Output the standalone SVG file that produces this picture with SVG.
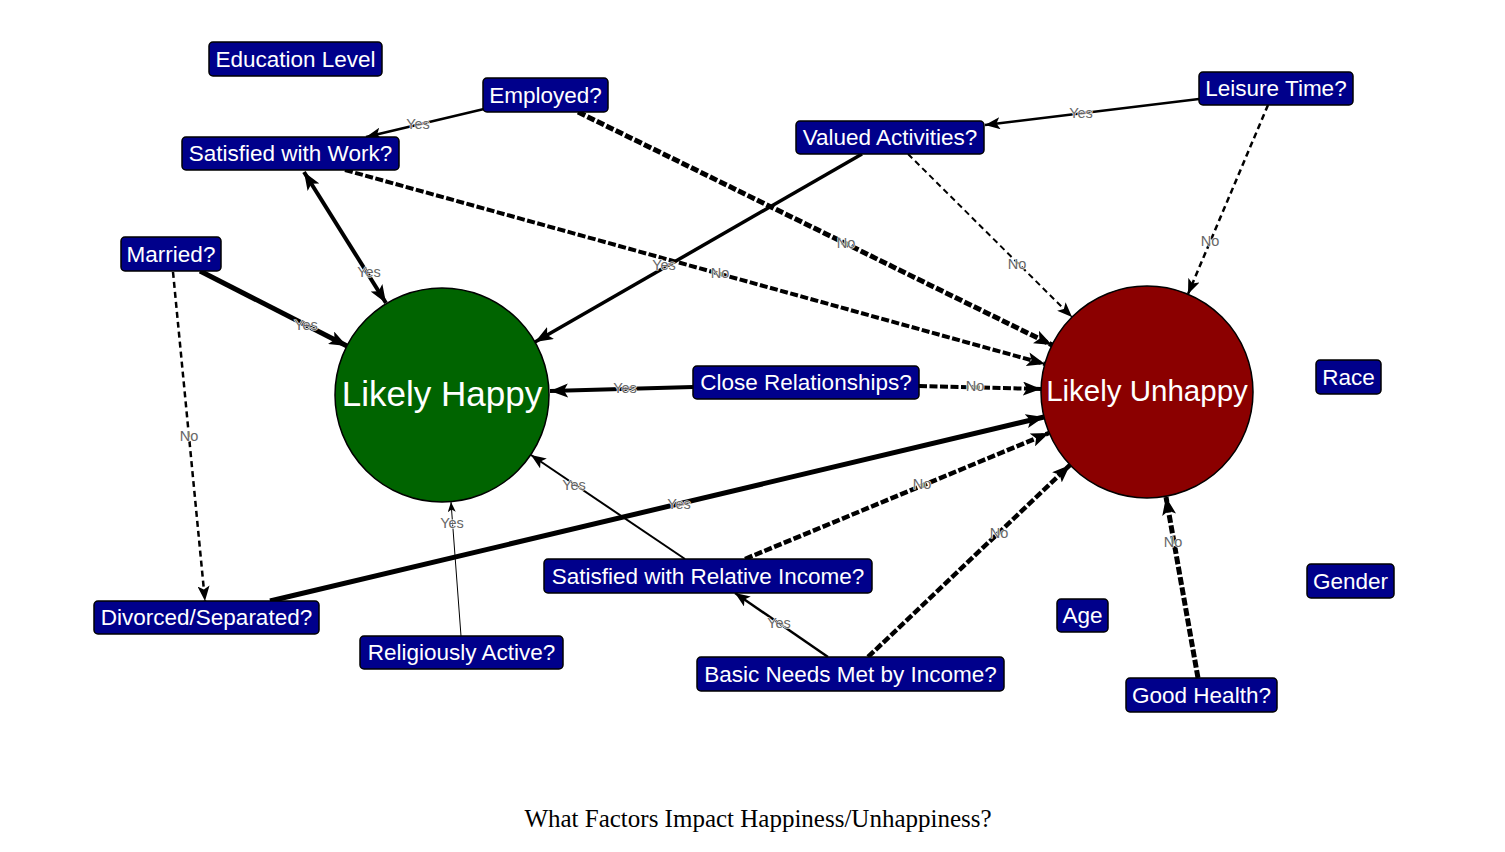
<svg xmlns="http://www.w3.org/2000/svg" width="1505" height="852" viewBox="0 0 1505 852">
<style>
.box{fill:#00008B;stroke:#000;stroke-width:1.5}
.bt{font-family:"Liberation Sans",Arial,sans-serif;font-size:22.5px;fill:#fff;text-anchor:middle}
.e{fill:none;stroke:#000;stroke-linecap:butt}
.d{stroke-dasharray:8 2.5}
.dt{stroke-dasharray:6 4}
.lb{font-family:"Liberation Sans",Arial,sans-serif;font-size:14.5px;fill:#666;text-anchor:middle;stroke:#fff;stroke-width:1.2;paint-order:stroke}
</style>
<defs>
<marker id="aS" markerUnits="userSpaceOnUse" markerWidth="10" markerHeight="8" refX="10" refY="4" orient="auto"><path d="M0,0 L10,4 L0,8 L2.5,4 Z" fill="#000"/></marker>
<marker id="aM" markerUnits="userSpaceOnUse" markerWidth="15" markerHeight="12" refX="15" refY="6" orient="auto"><path d="M0,0 L15,6 L0,12 L3.5,6 Z" fill="#000"/></marker>
<marker id="aL" markerUnits="userSpaceOnUse" markerWidth="18" markerHeight="14" refX="18" refY="7" orient="auto"><path d="M0,0 L18,7 L0,14 L4,7 Z" fill="#000"/></marker>
<marker id="aLs" markerUnits="userSpaceOnUse" markerWidth="18" markerHeight="14" refX="0" refY="7" orient="auto"><path d="M18,0 L0,7 L18,14 L14,7 Z" fill="#000"/></marker>
</defs>
<rect width="1505" height="852" fill="#fff"/>
<g id="connectors">
<line class="e" x1="484" y1="109" x2="366" y2="137" stroke-width="2.5" marker-end="url(#aM)"/>
<line class="e d" x1="578" y1="112" x2="1052" y2="345" stroke-width="5" marker-end="url(#aL)"/>
<line class="e" x1="304" y1="172" x2="386" y2="303" stroke-width="4" marker-start="url(#aLs)" marker-end="url(#aL)"/>
<line class="e d" x1="345" y1="170" x2="1045" y2="364" stroke-width="4" marker-end="url(#aL)"/>
<line class="e" x1="862" y1="154" x2="535" y2="342" stroke-width="3.5" marker-end="url(#aL)"/>
<line class="e dt" x1="908" y1="154" x2="1072" y2="317" stroke-width="2" marker-end="url(#aM)"/>
<line class="e" x1="1199" y1="99" x2="985" y2="125" stroke-width="2.5" marker-end="url(#aM)"/>
<line class="e dt" x1="1268" y1="105" x2="1188" y2="294" stroke-width="2.5" marker-end="url(#aM)"/>
<line class="e" x1="200" y1="271" x2="347" y2="346" stroke-width="5" marker-end="url(#aL)"/>
<line class="e dt" x1="173" y1="272" x2="205" y2="601" stroke-width="2.5" marker-end="url(#aM)"/>
<line class="e" x1="270" y1="601" x2="1044" y2="417" stroke-width="5" marker-end="url(#aL)"/>
<line class="e" x1="461" y1="636" x2="451" y2="502" stroke-width="1" marker-end="url(#aS)"/>
<line class="e" x1="693" y1="387" x2="550" y2="391" stroke-width="4" marker-end="url(#aL)"/>
<line class="e d" x1="919" y1="386" x2="1041" y2="389" stroke-width="4" marker-end="url(#aL)"/>
<line class="e" x1="685" y1="559" x2="531" y2="455" stroke-width="2" marker-end="url(#aM)"/>
<line class="e d" x1="745" y1="559" x2="1049" y2="433" stroke-width="4.5" marker-end="url(#aL)"/>
<line class="e" x1="828" y1="657" x2="735" y2="593" stroke-width="2.5" marker-end="url(#aM)"/>
<line class="e d" x1="868" y1="657" x2="1070" y2="465" stroke-width="4.5" marker-end="url(#aL)"/>
<line class="e d" x1="1198" y1="678" x2="1166" y2="497" stroke-width="5" marker-end="url(#aL)"/>
<text class="lb" x="418" y="129">Yes</text>
<text class="lb" x="846" y="248">No</text>
<text class="lb" x="369" y="277">Yes</text>
<text class="lb" x="720" y="278">No</text>
<text class="lb" x="664" y="270">Yes</text>
<text class="lb" x="1017" y="269">No</text>
<text class="lb" x="1081" y="118">Yes</text>
<text class="lb" x="1210" y="246">No</text>
<text class="lb" x="306" y="330">Yes</text>
<text class="lb" x="189" y="441">No</text>
<text class="lb" x="679" y="509">Yes</text>
<text class="lb" x="452" y="528">Yes</text>
<text class="lb" x="625" y="393">Yes</text>
<text class="lb" x="975" y="391">No</text>
<text class="lb" x="574" y="490">Yes</text>
<text class="lb" x="922" y="489">No</text>
<text class="lb" x="779" y="628">Yes</text>
<text class="lb" x="999" y="538">No</text>
<text class="lb" x="1173" y="547">No</text>
</g>
<g id="likely-happy"><circle cx="442" cy="395" r="107" fill="#006400" stroke="#000" stroke-width="1.5"/><text x="442" y="406" font-family="Liberation Sans, Arial, sans-serif" font-size="35" fill="#fff" text-anchor="middle">Likely Happy</text></g>
<g id="likely-unhappy"><circle cx="1147" cy="392" r="106" fill="#8B0000" stroke="#000" stroke-width="1.5"/><text x="1147" y="401" font-family="Liberation Sans, Arial, sans-serif" font-size="29.5" fill="#fff" text-anchor="middle">Likely Unhappy</text></g>
<g id="education-level"><rect class="box" x="209" y="42" width="173" height="34" rx="4"/><text class="bt" x="295.5" y="67">Education Level</text></g>
<g id="employed"><rect class="box" x="483" y="78" width="125" height="34" rx="4"/><text class="bt" x="545.5" y="103">Employed?</text></g>
<g id="satisfied-work"><rect class="box" x="182" y="137" width="217" height="33" rx="4"/><text class="bt" x="290.5" y="161">Satisfied with Work?</text></g>
<g id="valued-activities"><rect class="box" x="796" y="121" width="188" height="33" rx="4"/><text class="bt" x="890" y="145">Valued Activities?</text></g>
<g id="leisure-time"><rect class="box" x="1199" y="72" width="154" height="33" rx="4"/><text class="bt" x="1276" y="96">Leisure Time?</text></g>
<g id="married"><rect class="box" x="121" y="237" width="100" height="34" rx="4"/><text class="bt" x="171" y="262">Married?</text></g>
<g id="close-relationships"><rect class="box" x="693" y="366" width="226" height="33" rx="4"/><text class="bt" x="806" y="390">Close Relationships?</text></g>
<g id="race"><rect class="box" x="1316" y="360" width="65" height="34" rx="4"/><text class="bt" x="1348.5" y="385">Race</text></g>
<g id="gender"><rect class="box" x="1307" y="564" width="87" height="34" rx="4"/><text class="bt" x="1350.5" y="589">Gender</text></g>
<g id="age"><rect class="box" x="1057" y="599" width="51" height="33" rx="4"/><text class="bt" x="1082.5" y="623">Age</text></g>
<g id="satisfied-relative-income"><rect class="box" x="544" y="559" width="328" height="34" rx="4"/><text class="bt" x="708" y="584">Satisfied with Relative Income?</text></g>
<g id="divorced-separated"><rect class="box" x="94" y="601" width="225" height="33" rx="4"/><text class="bt" x="206.5" y="625">Divorced/Separated?</text></g>
<g id="religiously-active"><rect class="box" x="360" y="636" width="203" height="33" rx="4"/><text class="bt" x="461.5" y="660">Religiously Active?</text></g>
<g id="basic-needs"><rect class="box" x="697" y="657" width="307" height="34" rx="4"/><text class="bt" x="850.5" y="682">Basic Needs Met by Income?</text></g>
<g id="good-health"><rect class="box" x="1126" y="678" width="151" height="34" rx="4"/><text class="bt" x="1201.5" y="703">Good Health?</text></g>
<text x="758" y="827" font-family="Liberation Serif, Times New Roman, serif" font-size="25" fill="#000" text-anchor="middle">What Factors Impact Happiness/Unhappiness?</text>
</svg>
